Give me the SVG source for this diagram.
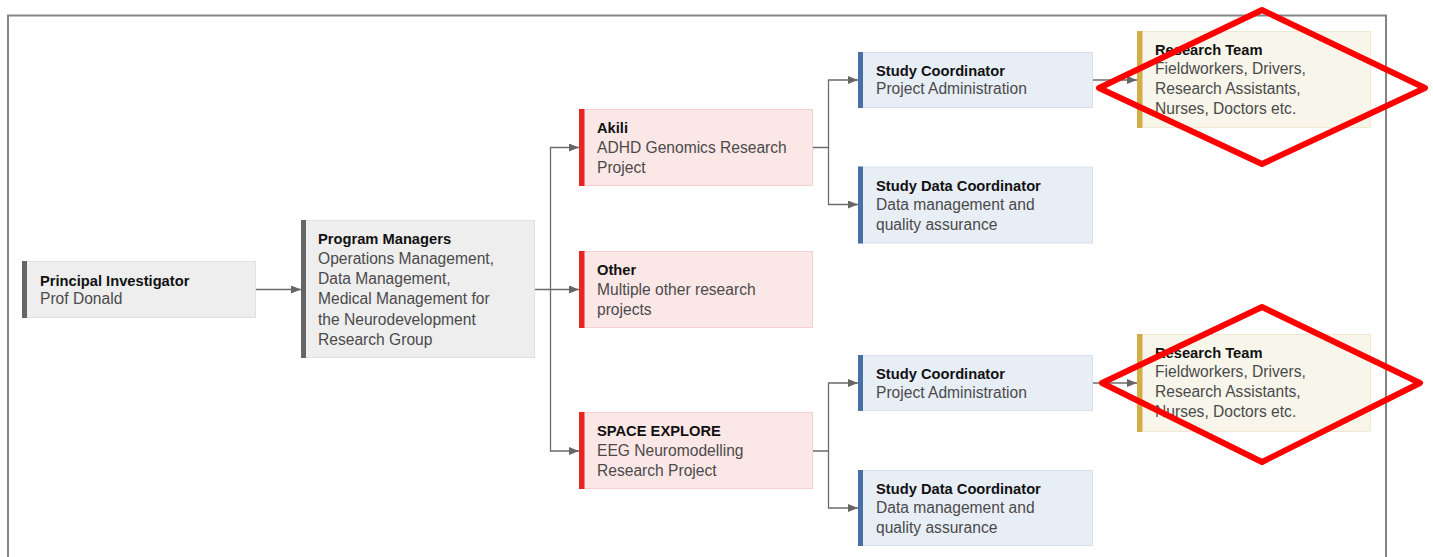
<svg xmlns="http://www.w3.org/2000/svg" width="1433" height="557" viewBox="0 0 1433 557">
  <defs>
    <marker id="arrow" viewBox="0 0 10 8" refX="10" refY="4" markerWidth="10" markerHeight="8" markerUnits="userSpaceOnUse" orient="auto">
      <path d="M0,0 L10,4 L0,8 Z" fill="#666666"/>
    </marker>
    <style>
      .frame { fill: none; stroke: #858585; stroke-width: 2; }
      .box { stroke-width: 1; }
      .gray .box { fill: #eeeeee; stroke: #e0e0e0; }
      .gray .bar { fill: #666666; }
      .pink .box { fill: #fce7e7; stroke: #f6cfcf; }
      .pink .bar { fill: #e8261f; }
      .blue .box { fill: #e8eef6; stroke: #d6dfeb; }
      .blue .bar { fill: #4a6ea6; }
      .cream .box { fill: #f8f6ea; stroke: #efe9d2; }
      .cream .bar { fill: #d2ad48; }
      text { font-family: "Liberation Sans", Arial, sans-serif; }
      .title { font-size: 14.7px; font-weight: bold; fill: #111111; }
      .body { font-size: 15.6px; fill: #4a4a4a; }
      .conn { fill: none; stroke: #6b6b6b; stroke-width: 1.3; }
      .mark { fill: none; stroke: #ff0000; stroke-width: 6; stroke-linejoin: round; }
    </style>
  </defs>

  <rect class="frame" x="8" y="15.5" width="1378" height="600"/>

  <!-- connectors -->
  <g id="connectors">
    <path class="conn" d="M256,289.5 H301" marker-end="url(#arrow)"/>
    <path class="conn" d="M535,289.5 H579" marker-end="url(#arrow)"/>
    <path class="conn" d="M550.5,289.5 V147.5 H579" marker-end="url(#arrow)"/>
    <path class="conn" d="M550.5,289.5 V451 H579" marker-end="url(#arrow)"/>
    <path class="conn" d="M813,147.5 H828.5 V80 H858" marker-end="url(#arrow)"/>
    <path class="conn" d="M828.5,147.5 V204.5 H858" marker-end="url(#arrow)"/>
    <path class="conn" d="M813,451 H828.5 V383 H858" marker-end="url(#arrow)"/>
    <path class="conn" d="M828.5,451 V508 H858" marker-end="url(#arrow)"/>
    <path class="conn" d="M1093,80 H1137" marker-end="url(#arrow)"/>
    <path class="conn" d="M1093,383 H1137" marker-end="url(#arrow)"/>
  </g>

  <!-- nodes -->
  <g id="principal-investigator" class="gray">
    <rect class="box" x="22.5" y="261.5" width="233" height="56"/>
    <rect class="bar" x="22" y="261" width="5" height="57"/>
    <text class="title" x="40" y="285.5">Principal Investigator</text>
    <text class="body" x="40" y="304">Prof Donald</text>
  </g>

  <g id="program-managers" class="gray">
    <rect class="box" x="301.5" y="220.5" width="233" height="137"/>
    <rect class="bar" x="301" y="220" width="5" height="138"/>
    <text class="title" x="318" y="244">Program Managers</text>
    <text class="body" x="318" y="263.5">Operations Management,</text>
    <text class="body" x="318" y="283.5">Data Management,</text>
    <text class="body" x="318" y="304">Medical Management for</text>
    <text class="body" x="318" y="324.5">the Neurodevelopment</text>
    <text class="body" x="318" y="345">Research Group</text>
  </g>

  <g id="akili" class="pink">
    <rect class="box" x="579.5" y="109.5" width="233" height="76"/>
    <rect class="bar" x="579" y="109" width="5.5" height="77"/>
    <text class="title" x="597" y="133">Akili</text>
    <text class="body" x="597" y="152.5">ADHD Genomics Research</text>
    <text class="body" x="597" y="173">Project</text>
  </g>

  <g id="other" class="pink">
    <rect class="box" x="579.5" y="251.5" width="233" height="76"/>
    <rect class="bar" x="579" y="251" width="5.5" height="77"/>
    <text class="title" x="597" y="275">Other</text>
    <text class="body" x="597" y="294.5">Multiple other research</text>
    <text class="body" x="597" y="315">projects</text>
  </g>

  <g id="space-explore" class="pink">
    <rect class="box" x="579.5" y="412.5" width="233" height="76"/>
    <rect class="bar" x="579" y="412" width="5.5" height="77"/>
    <text class="title" x="597" y="436">SPACE EXPLORE</text>
    <text class="body" x="597" y="455.5">EEG Neuromodelling</text>
    <text class="body" x="597" y="476">Research Project</text>
  </g>

  <g id="study-coordinator-1" class="blue">
    <rect class="box" x="858.5" y="52.5" width="234" height="55"/>
    <rect class="bar" x="858" y="52" width="5" height="56"/>
    <text class="title" x="876" y="76">Study Coordinator</text>
    <text class="body" x="876" y="94">Project Administration</text>
  </g>

  <g id="study-data-coordinator-1" class="blue">
    <rect class="box" x="858.5" y="167" width="234" height="76"/>
    <rect class="bar" x="858" y="166.5" width="5" height="77"/>
    <text class="title" x="876" y="191">Study Data Coordinator</text>
    <text class="body" x="876" y="209.5">Data management and</text>
    <text class="body" x="876" y="229.5">quality assurance</text>
  </g>

  <g id="study-coordinator-2" class="blue">
    <rect class="box" x="858.5" y="355.5" width="234" height="55"/>
    <rect class="bar" x="858" y="355" width="5" height="56"/>
    <text class="title" x="876" y="379">Study Coordinator</text>
    <text class="body" x="876" y="397.5">Project Administration</text>
  </g>

  <g id="study-data-coordinator-2" class="blue">
    <rect class="box" x="858.5" y="470.5" width="234" height="75"/>
    <rect class="bar" x="858" y="470" width="5" height="76"/>
    <text class="title" x="876" y="494">Study Data Coordinator</text>
    <text class="body" x="876" y="512.5">Data management and</text>
    <text class="body" x="876" y="533">quality assurance</text>
  </g>

  <g id="research-team-1" class="cream">
    <rect class="box" x="1137.5" y="31.5" width="233" height="96"/>
    <rect class="bar" x="1137" y="31" width="5.5" height="97"/>
    <text class="title" x="1155" y="55">Research Team</text>
    <text class="body" x="1155" y="73.5">Fieldworkers, Drivers,</text>
    <text class="body" x="1155" y="93.5">Research Assistants,</text>
    <text class="body" x="1155" y="113.5">Nurses, Doctors etc.</text>
  </g>

  <g id="research-team-2" class="cream">
    <rect class="box" x="1137.5" y="334.5" width="233" height="97"/>
    <rect class="bar" x="1137" y="334" width="5.5" height="98"/>
    <text class="title" x="1155" y="358">Research Team</text>
    <text class="body" x="1155" y="377">Fieldworkers, Drivers,</text>
    <text class="body" x="1155" y="397">Research Assistants,</text>
    <text class="body" x="1155" y="417">Nurses, Doctors etc.</text>
  </g>

  <!-- red highlight marks over the research team boxes -->
  <g id="highlights">
    <polygon class="mark" points="1262,10 1425,88 1262,164 1099,88"/>
    <polygon class="mark" points="1262,307 1420,383 1262,462 1102,383"/>
  </g>
</svg>
